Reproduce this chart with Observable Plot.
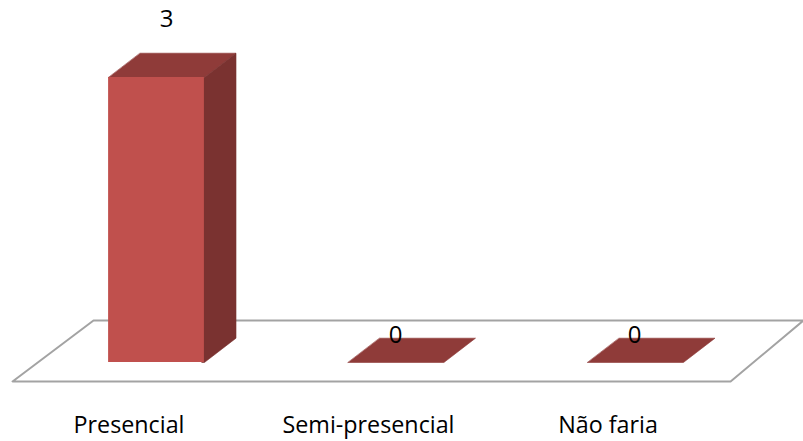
<!DOCTYPE html>
<html>
<head>
<meta charset="utf-8">
<style>html,body{margin:0;padding:0;background:#fff}svg{display:block}</style>
<script src="https://cdn.jsdelivr.net/npm/d3@7"></script>
<script src="https://cdn.jsdelivr.net/npm/@observablehq/plot@0.6"></script>
</head>
<body>
<script>
const categories = ["Presencial", "Semi-presencial", "Não faria"];
const values = [3, 0, 0];
const labelLift = [0.61, 0.284, 0.284];
const labelShift = [0.042, -0.002, -0.004];
const floorX = [-0.601, 2.397, 2.701, -0.263];
const floorY = [-0.2, -0.2, 0.442, 0.442];
const barHalf = 0.2, depthX = 0.132, depthY = 0.256, overlap = 0.01;
const FONT = "'Open Sans', sans-serif";

const idx = categories.map((_, i) => i);
const poly = (id, pts) => pts.map(([x, y]) => ({id, x, y}));
const floor = poly("floor", floorX.map((x, i) => [x, floorY[i]]));
const fronts = idx.map(i => ({x1: i - barHalf, x2: i + barHalf, y1: 0, y2: values[i]})).filter(d => d.y2 > 0);
const tops = idx.flatMap(i => poly("t" + i, [
  [i - barHalf, values[i]], [i + barHalf, values[i]],
  [i + barHalf + depthX, values[i] + depthY], [i - barHalf + depthX, values[i] + depthY]]));
const sides = idx.filter(i => values[i] > 0).flatMap(i => poly("s" + i, [
  [i + barHalf - overlap, 0], [i + barHalf, 0], [i + barHalf + depthX, depthY],
  [i + barHalf + depthX, values[i] + depthY], [i + barHalf, values[i]], [i + barHalf - overlap, values[i]]]));
const labels = idx.map(i => ({x: i + labelShift[i], y: values[i] + labelLift[i], v: values[i]}));

const chart = Plot.plot({
  width: 803, height: 441,
  marginTop: 0, marginRight: 0, marginBottom: 30, marginLeft: 0,
  style: {background: "#fff", fontFamily: FONT, color: "#000"},
  x: {domain: [-156 / 239.5, 647 / 239.5]},
  y: {domain: [-49 / 95, 362 / 95], axis: null},
  marks: [
    Plot.line(floor, {x: "x", y: "y", z: "id", curve: "linear-closed", stroke: "#a3a3a3", strokeWidth: 2, fill: "#fff"}),
    Plot.line(tops, {x: "x", y: "y", z: "id", curve: "linear-closed", fill: "#8f3b39", stroke: "#8f3b39", strokeWidth: 0.6}),
    Plot.line(sides, {x: "x", y: "y", z: "id", curve: "linear-closed", fill: "#7a3230", stroke: "#7a3230", strokeWidth: 0.6}),
    Plot.rectY(fronts, {x1: "x1", x2: "x2", y1: "y1", y2: "y2", fill: "#c0504d"}),
    Plot.text(labels, {x: "x", y: "y", text: "v", fill: "#000", fontSize: 24, lineAnchor: "middle"}),
    Plot.axisX({anchor: "bottom", ticks: idx, tickSize: 0, tickPadding: 0, label: null,
      tickFormat: i => categories[i], fontSize: 23.3, dx: -27.5, dy: 5, fill: "#000"})
  ]
});
document.body.appendChild(chart);
</script>
</body>
</html>
